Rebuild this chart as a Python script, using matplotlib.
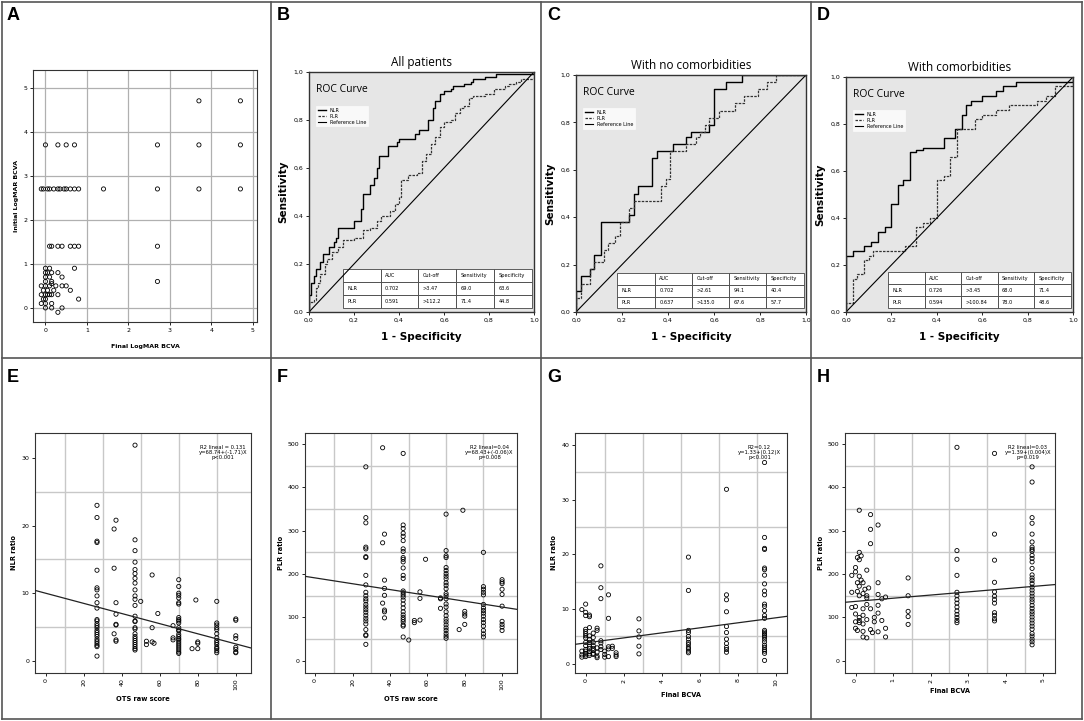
import matplotlib
matplotlib.use('Agg')
import matplotlib.pyplot as plt
from matplotlib.patches import Rectangle
from matplotlib.lines import Line2D
from matplotlib.ticker import FuncFormatter, MultipleLocator, FixedLocator

W, H = 1084, 721

# ---- panel A: initial vs final LogMAR BCVA ----
a_final = [3.7, 4.7,
           0, 0.3, 0.5, 0.7, 2.7, 3.7, 4.7,
           -0.1, -0.05, 0.05, 0.1, 0.2, 0.3, 0.35, 0.45, 0.5, 0.6, 0.7, 0.8, 1.4, 2.7, 3.7, 4.7,
           0.1, 0.15, 0.3, 0.4, 0.6, 0.7, 0.8, 2.7,
           2.7,
           0, 0.1, 0, 0.05, 0.15, 0.3, 0, 0.1, 0.4, 0.7, 0, 0.15, 0.15, -0.1, 0, 0.1, 0.25,
           0.4, 0.5, -0.05, 0.05, 0.2, 0.6, -0.1, 0, 0.05, 0.1, 0.15, 0.3, -0.05, 0, 0,
           -0.1, 0.15, 0.8, 0, 0.15, 0.4, 0.3]
a_initial = [4.7, 4.7,
             3.7, 3.7, 3.7, 3.7, 3.7, 3.7, 3.7,
             2.7, 2.7, 2.7, 2.7, 2.7, 2.7, 2.7, 2.7, 2.7, 2.7, 2.7, 2.7, 2.7, 2.7, 2.7, 2.7,
             1.4, 1.4, 1.4, 1.4, 1.4, 1.4, 1.4, 1.4,
             0.6,
             0.9, 0.9, 0.8, 0.8, 0.8, 0.8, 0.7, 0.7, 0.7, 0.9, 0.6, 0.6, 0.55, 0.5, 0.5, 0.5, 0.5,
             0.5, 0.5, 0.4, 0.4, 0.4, 0.4, 0.3, 0.3, 0.3, 0.3, 0.3, 0.3, 0.2, 0.2, 0.1,
             0.1, 0.1, 0.2, 0.0, 0.0, 0.0, -0.1]

# ---- ROC curves (fpr, tpr) ----
b_nlr_fpr = [0, 0, 0.01, 0.02, 0.03, 0.05, 0.06, 0.09, 0.11, 0.12, 0.13, 0.19, 0.2, 0.22, 0.23, 0.24, 0.26,
             0.27, 0.29, 0.3, 0.31, 0.34, 0.35, 0.38, 0.39, 0.4, 0.46, 0.47, 0.49, 0.52, 0.53, 0.55, 0.56,
             0.58, 0.6, 0.63, 0.64, 0.68, 0.69, 0.72, 0.73, 0.78, 0.83, 1.0]
b_nlr_tpr = [0, 0.07, 0.12, 0.15, 0.18, 0.21, 0.24, 0.27, 0.29, 0.31, 0.35, 0.35, 0.38, 0.38, 0.43, 0.49, 0.49,
             0.53, 0.56, 0.6, 0.65, 0.65, 0.69, 0.69, 0.71, 0.72, 0.72, 0.74, 0.76, 0.76, 0.8, 0.85, 0.88,
             0.91, 0.92, 0.93, 0.94, 0.94, 0.95, 0.96, 0.97, 0.98, 0.99, 1.0]
b_plr_fpr = [0, 0, 0.02, 0.03, 0.04, 0.05, 0.07, 0.08, 0.1, 0.13, 0.15, 0.2, 0.24, 0.27, 0.3, 0.32, 0.36,
             0.38, 0.4, 0.41, 0.44, 0.48, 0.5, 0.52, 0.54, 0.56, 0.58, 0.6, 0.63, 0.65, 0.67, 0.69, 0.71,
             0.73, 0.78, 0.82, 0.87, 0.89, 0.92, 0.94, 1.0]
b_plr_tpr = [0, 0.04, 0.05, 0.1, 0.12, 0.16, 0.2, 0.22, 0.25, 0.27, 0.3, 0.31, 0.34, 0.35, 0.38, 0.4, 0.42,
             0.45, 0.48, 0.55, 0.57, 0.58, 0.63, 0.66, 0.7, 0.73, 0.77, 0.79, 0.8, 0.83, 0.85, 0.86, 0.89,
             0.9, 0.91, 0.93, 0.94, 0.95, 0.96, 0.97, 1.0]

c_nlr_fpr = [0, 0, 0.02, 0.02, 0.06, 0.06, 0.08, 0.08, 0.1, 0.11, 0.23, 0.23, 0.25, 0.25, 0.27, 0.27, 0.33,
             0.33, 0.35, 0.35, 0.42, 0.42, 0.48, 0.48, 0.5, 0.5, 0.58, 0.58, 0.6, 0.6, 0.65, 0.65, 0.7,
             0.72, 1.0]
c_nlr_tpr = [0, 0.09, 0.09, 0.15, 0.15, 0.18, 0.18, 0.24, 0.24, 0.38, 0.38, 0.41, 0.41, 0.5, 0.5, 0.53, 0.53,
             0.65, 0.65, 0.68, 0.68, 0.71, 0.71, 0.74, 0.74, 0.76, 0.76, 0.79, 0.79, 0.94, 0.94, 0.97, 0.97,
             1.0, 1.0]
c_plr_fpr = [0, 0, 0.02, 0.02, 0.06, 0.06, 0.08, 0.08, 0.12, 0.12, 0.14, 0.14, 0.17, 0.17, 0.19, 0.19, 0.23,
             0.23, 0.25, 0.37, 0.37, 0.39, 0.39, 0.4, 0.41, 0.48, 0.48, 0.52, 0.52, 0.54, 0.56, 0.58, 0.58,
             0.62, 0.69, 0.69, 0.73, 0.73, 0.77, 0.79, 0.83, 0.83, 0.87, 0.87, 1.0]
c_plr_tpr = [0, 0.06, 0.06, 0.12, 0.12, 0.18, 0.18, 0.21, 0.21, 0.26, 0.26, 0.29, 0.29, 0.32, 0.32, 0.38, 0.38,
             0.44, 0.47, 0.47, 0.53, 0.53, 0.56, 0.56, 0.68, 0.68, 0.71, 0.71, 0.74, 0.76, 0.79, 0.79, 0.82,
             0.85, 0.85, 0.88, 0.88, 0.91, 0.91, 0.94, 0.94, 0.97, 0.97, 1.0, 1.0]

d_nlr_fpr = [0, 0, 0.03, 0.03, 0.08, 0.08, 0.11, 0.11, 0.14, 0.14, 0.17, 0.17, 0.2, 0.2, 0.23, 0.23, 0.25,
             0.25, 0.28, 0.28, 0.31, 0.31, 0.34, 0.43, 0.43, 0.48, 0.48, 0.51, 0.51, 0.53, 0.53, 0.55, 0.55,
             0.6, 0.6, 0.66, 0.66, 0.69, 0.69, 0.75, 0.75, 1.0, 1.0]
d_nlr_tpr = [0, 0.24, 0.24, 0.26, 0.26, 0.28, 0.28, 0.3, 0.3, 0.34, 0.34, 0.36, 0.36, 0.46, 0.46, 0.54, 0.54,
             0.56, 0.56, 0.68, 0.68, 0.69, 0.7, 0.7, 0.74, 0.74, 0.78, 0.78, 0.84, 0.84, 0.88, 0.88, 0.9,
             0.9, 0.92, 0.92, 0.94, 0.94, 0.96, 0.96, 0.98, 0.98, 1.0]
d_plr_fpr = [0, 0, 0.03, 0.03, 0.05, 0.05, 0.08, 0.08, 0.1, 0.1, 0.12, 0.12, 0.26, 0.26, 0.31, 0.31, 0.34,
             0.34, 0.37, 0.37, 0.4, 0.4, 0.43, 0.43, 0.46, 0.46, 0.49, 0.49, 0.57, 0.57, 0.6, 0.6, 0.66,
             0.66, 0.72, 0.72, 0.84, 0.84, 0.88, 0.88, 0.92, 0.92, 1.0, 1.0]
d_plr_tpr = [0, 0.04, 0.04, 0.14, 0.14, 0.16, 0.16, 0.22, 0.22, 0.24, 0.24, 0.26, 0.26, 0.28, 0.28, 0.36, 0.36,
             0.38, 0.38, 0.4, 0.4, 0.56, 0.56, 0.58, 0.58, 0.66, 0.66, 0.78, 0.78, 0.82, 0.82, 0.84, 0.84,
             0.86, 0.86, 0.88, 0.88, 0.9, 0.9, 0.92, 0.92, 0.96, 0.96, 1.0]

table_header = ['', 'AUC', 'Cut-off', 'Sensitivity', 'Specificity']
b_table = [['NLR', '0.702', '>3.47', '69.0', '63.6'], ['PLR', '0.591', '>112.2', '71.4', '44.8']]
c_table = [['NLR', '0.702', '>2.61', '94.1', '40.4'], ['PLR', '0.637', '>135.0', '67.6', '57.7']]
d_table = [['NLR', '0.726', '>3.45', '68.0', '71.4'], ['PLR', '0.594', '>100.84', '78.0', '48.6']]

# ---- panel E: NLR vs OTS raw score ----
e_ots = [27, 36, 37, 47, 50, 53, 56, 57, 59, 67, 70, 77, 79, 80, 90, 100]
e_nlr = [[23.0, 21.2, 17.7, 17.5, 13.4, 10.8, 10.5, 9.6, 8.6, 7.8, 6.1, 5.9, 5.5, 5.2, 4.9, 4.5, 4.2,
          3.9, 3.6, 3.2, 2.9, 2.6, 2.3, 2.1, 0.7],
         [19.5, 13.7, 4.0],
         [20.8, 8.6, 6.9, 5.4, 5.3, 3.1, 2.9],
         [31.9, 17.9, 16.3, 14.6, 13.5, 12.9, 12.2, 11.5, 10.5, 9.6, 9.1, 8.2, 6.6, 5.9, 5.8, 4.9, 4.7,
          4.0, 3.6, 3.3, 3.0, 2.7, 2.4, 2.1, 1.8, 1.6],
         [8.8], [2.9, 2.4], [12.7, 4.9, 2.8], [2.6], [7.0], [5.2, 3.4, 3.1],
         [12.0, 11.0, 10.0, 9.7, 9.3, 8.6, 8.4, 6.4, 6.1, 5.9, 5.6, 4.9, 4.6, 4.4, 3.9, 3.6, 3.3, 3.1,
          2.8, 2.5, 2.2, 1.9, 1.6, 1.3, 1.1],
         [1.8], [9.0], [2.8, 2.6, 1.8],
         [8.8, 5.6, 5.3, 4.9, 4.6, 4.0, 3.4, 3.0, 2.7, 2.4, 2.0, 1.8, 1.5, 1.2],
         [6.2, 6.0, 3.7, 3.3, 2.0, 1.7, 1.3, 1.2]]
e_fit = (10.0, -0.075)

# ---- panel F: PLR vs OTS raw score ----
f_ots = [27, 36, 37, 47, 50, 53, 56, 59, 67, 70, 77, 79, 80, 90, 100]
f_plr = [[447, 330, 318, 262, 258, 240, 238, 197, 175, 158, 150, 143, 138, 130, 124, 118, 112, 105, 98,
          92, 85, 72, 60, 58, 38],
         [491, 272, 133],
         [292, 186, 167, 151, 117, 113, 99],
         [478, 313, 305, 294, 287, 277, 258, 252, 238, 234, 228, 214, 197, 190, 161, 157, 152, 147, 140,
          131, 122, 113, 106, 100, 95, 90, 83, 80, 55],
         [48], [93, 88], [159, 144, 94], [234], [145, 143, 121],
         [338, 254, 242, 238, 215, 208, 201, 195, 189, 180, 174, 166, 155, 150, 143, 131, 124, 113, 104,
          96, 90, 83, 76, 70, 63, 57, 52],
         [72], [347], [114, 108, 103, 84],
         [250, 171, 165, 158, 152, 130, 122, 116, 110, 103, 95, 88, 80, 70, 62, 55],
         [187, 182, 178, 165, 153, 126, 91, 84, 78, 70]]
f_fit = (191, -0.67)

# ---- panel G: NLR vs final BCVA ----
g_bcva = [-0.2, 0, 0.2, 0.4, 0.6, 0.8, 1.0, 1.2, 1.4, 1.6, 2.8, 5.4, 7.4, 9.4]
g_nlr = [[9.9, 2.3, 1.6, 1.2],
         [10.9, 9.4, 8.8, 6.3, 5.9, 5.5, 5.1, 4.7, 3.9, 3.3, 2.6, 2.3, 1.9, 1.6, 1.3],
         [8.9, 8.6, 6.6, 5.1, 4.4, 3.9, 3.2, 2.8, 2.2, 1.8, 1.5],
         [5.6, 4.8, 3.9, 3.3, 2.8, 2.4, 1.9, 1.7],
         [6.5, 6.1, 2.9, 2.1, 1.4, 1.1],
         [17.9, 13.9, 11.9, 4.2, 3.8, 3.1, 2.6],
         [2.3, 1.7, 1.2],
         [12.6, 8.3, 3.1, 2.7, 1.3],
         [3.2, 2.8],
         [2.0, 1.6, 1.3],
         [8.2, 6.0, 4.9, 3.2, 1.8],
         [19.5, 13.4, 6.1, 5.7, 5.0, 4.5, 3.9, 3.5, 3.0, 2.7, 2.3, 2.0],
         [31.9, 12.6, 11.7, 9.5, 6.8, 5.7, 4.5, 3.7, 3.0, 2.6, 2.1],
         [36.8, 23.1, 21.1, 20.9, 17.5, 17.2, 16.2, 14.6, 13.3, 12.6, 10.9, 10.5, 9.7, 8.8, 8.3, 6.1,
          5.8, 5.5, 5.2, 4.9, 4.5, 4.0, 3.4, 3.0, 2.6, 2.3, 1.9, 0.6]]
g_fit = (3.8, 0.46)

# ---- panel H: PLR vs final BCVA ----
h_left_bcva = [0.1, 0.4, 0.4, 0.6, 0.4, 0.1, 0.15, 0.05, 0.1, 0, 0.3, 0, -0.1, 0.1, 0.15, 0.05, 0.2,
               0.1, 0.35, 0.25, 0.6, 0.6, -0.1, 0.05, 0.2, 0.3, 0.1, 0.3, 0.7, 0.8, -0.1, 0, 0.2, 0.4,
               0.3, 0.6, 0.5, 0.6, 0, 0.1, 0.2, 0.3, 0, 0.1, 0.2, 0, 0.05, 0.2, 0.4, 0.45, 0.6, 0.7,
               0.8, 0.8, 0.2, 0.3, 0.1, 0.5]
h_left_plr = [347, 337, 303, 313, 270, 250, 242, 238, 233, 215, 209, 205, 197, 195, 186, 180, 180,
              172, 168, 165, 180, 153, 158, 160, 155, 150, 150, 145, 143, 147, 123, 125, 120, 120,
              130, 128, 100, 110, 108, 100, 105, 95, 90, 88, 85, 75, 70, 68, 72, 65, 67, 93,
              75, 55, 55, 53, 93, 90]
h_bcva = [1.4, 2.7, 3.7, 4.7]
h_plr = [[191, 150, 114, 102, 84],
         [492, 254, 234, 197, 158, 150, 141, 133, 124, 115, 107, 100, 93, 88],
         [478, 292, 232, 181, 159, 149, 141, 133, 111, 105, 97, 92],
         [447, 412, 330, 317, 292, 274, 262, 257, 253, 243, 236, 228, 213, 198, 191, 185, 178, 170,
          163, 156, 149, 142, 136, 128, 121, 114, 108, 101, 94, 87, 80, 73, 63, 57, 50, 44, 37]]
h_fit = (137, 7.3)


def px_axes(x0, y0, x1, y1):
    return fig.add_axes([x0 / W, 1 - y1 / H, (x1 - x0) / W, (y1 - y0) / H])


def flatten(xs, groups):
    fx, fy = [], []
    for x, ys in zip(xs, groups):
        for y in ys:
            fx.append(x)
            fy.append(y)
    return fx, fy


def style_box(ax, lw=0.8):
    for s in ax.spines.values():
        s.set_linewidth(lw)
        s.set_color('#333333')
    ax.tick_params(direction='out', length=2.5, width=0.6, labelsize=4.5, pad=1.5)


def scatter_open(ax, x, y):
    ax.scatter(x, y, s=9, facecolors='none', edgecolors='black', linewidths=0.6, zorder=3)


comma = FuncFormatter(lambda v, p: f"{v:.1f}".replace('.', ','))

fig = plt.figure(figsize=(W / 100, H / 100), dpi=100)
fig.patch.set_facecolor('white')

# panel frames
for x in [2, 271, 541, 811, 1082]:
    fig.add_artist(Line2D([x / W, x / W], [1 - 2 / H, 1 - 719 / H], color='#555555', lw=1.2,
                          transform=fig.transFigure))
for y in [2, 358, 719]:
    fig.add_artist(Line2D([2 / W, 1082 / W], [1 - y / H, 1 - y / H], color='#555555', lw=1.2,
                          transform=fig.transFigure))

letters = [('A', 7, 20), ('B', 277, 20), ('C', 547, 20), ('D', 817, 20),
           ('E', 7, 382), ('F', 277, 382), ('G', 547, 382), ('H', 817, 382)]
for lab, x, y in letters:
    fig.text(x / W, 1 - y / H, lab, fontsize=13, fontweight='bold', family='Liberation Sans')

# ---- A ----
ax = px_axes(33, 70, 257, 322)
style_box(ax)
ax.set_xlim(-0.3, 5.1)
ax.set_ylim(-0.32, 5.4)
ax.set_xticks(range(6))
ax.set_yticks(range(6))
ax.grid(True, color='#b0b0b0', lw=0.9)
ax.set_axisbelow(True)
scatter_open(ax, a_final, a_initial)
ax.set_xlabel('Final LogMAR BCVA', fontsize=4.5, fontweight='bold', labelpad=8)
ax.set_ylabel('Initial LogMAR BCVA', fontsize=4.5, fontweight='bold', labelpad=3)

# ---- ROC panels ----
roc_specs = [
    ((309, 72, 534, 312), 'All patients', b_nlr_fpr, b_nlr_tpr, b_plr_fpr, b_plr_tpr, b_table, 0.15, 0.18),
    ((576, 75, 806, 312), 'With no comorbidities', c_nlr_fpr, c_nlr_tpr, c_plr_fpr, c_plr_tpr, c_table, 0.18, 0.165),
    ((846, 77, 1073, 312), 'With comorbidities', d_nlr_fpr, d_nlr_tpr, d_plr_fpr, d_plr_tpr, d_table, 0.185, 0.17),
]
for rect, title, nx, ny, px_, py, tab, tx0, ttop in roc_specs:
    ax = px_axes(*rect)
    style_box(ax, lw=1.0)
    ax.set_facecolor('#e6e6e6')
    ax.set_xlim(0, 1)
    ax.set_ylim(0, 1)
    ax.set_xticks([0, 0.2, 0.4, 0.6, 0.8, 1.0])
    ax.set_yticks([0, 0.2, 0.4, 0.6, 0.8, 1.0])
    ax.xaxis.set_major_formatter(comma)
    ax.yaxis.set_major_formatter(comma)
    ax.plot(nx, ny, color='black', lw=1.0, drawstyle='steps-post', label='NLR')
    ax.plot(px_, py, color='#333333', lw=0.9, linestyle=(0, (2, 1)), drawstyle='steps-post', label='PLR')
    ax.plot([0, 1], [0, 1], color='black', lw=0.8, label='Reference Line')
    ax.text(0.03, 0.95, 'ROC Curve', transform=ax.transAxes, fontsize=7.5, va='top', family='Open Sans')
    leg = ax.legend(loc='upper left', bbox_to_anchor=(0.02, 0.87), fontsize=3.5, frameon=True,
                    handlelength=1.6, borderpad=0.4, labelspacing=0.2, fancybox=False)
    leg.get_frame().set_edgecolor('white')
    leg.get_frame().set_linewidth(0.5)
    t = ax.table(cellText=[table_header] + tab, bbox=[tx0, 0.015, 1 - tx0 - 0.01, ttop - 0.015],
                 cellLoc='left')
    t.auto_set_font_size(False)
    t.set_fontsize(3.6)
    for cell in t.get_celld().values():
        cell.set_facecolor('white')
        cell.set_edgecolor('#444444')
        cell.set_linewidth(0.6)
        cell.PAD = 0.12
    ax.set_title(title, fontsize=8.5, pad=4, family='Open Sans')
    ax.set_xlabel('1 - Specificity', fontsize=7.5, fontweight='bold', labelpad=7)
    ax.set_ylabel('Sensitivity', fontsize=7.5, fontweight='bold', labelpad=4)

# ---- bottom scatter panels ----
scatter_specs = [
    ((35, 433, 251, 673), flatten(e_ots, e_nlr), e_fit, (-5.6, 108), (-1.8, 33.7),
     range(0, 101, 20), [0, 10, 20, 30], [10, 30, 50, 70, 90], [5, 15, 25],
     'OTS raw score', 'NLR ratio', 'R2 lineal = 0.131\ny=68.74+(-1.71)X\np<0.001'),
    ((305, 433, 517, 673), flatten(f_ots, f_plr), f_fit, (-5.6, 108), (-28, 525),
     range(0, 101, 20), range(0, 501, 100), [10, 30, 50, 70, 90], [50, 150, 250, 350, 450],
     'OTS raw score', 'PLR ratio', 'R2 lineal=0.04\ny=68.43+(-0.06)X\np=0.008'),
    ((575, 433, 787, 673), flatten(g_bcva, g_nlr), g_fit, (-0.56, 10.58), (-1.7, 42.2),
     range(0, 11, 2), [0, 10, 20, 30, 40], [1, 3, 5, 7, 9], [5, 15, 25, 35],
     'Final BCVA', 'NLR ratio', 'R2=0.12\ny=1.33+(0.12)X\np<0.001'),
    ((845, 433, 1055, 673), None, h_fit, (-0.28, 5.31), (-28, 525),
     range(0, 6), range(0, 501, 100), [0.5, 1.5, 2.5, 3.5, 4.5], [50, 150, 250, 350, 450],
     'Final BCVA', 'PLR ratio', 'R2 lineal=0.03\ny=1.39+(0.004)X\np=0.019'),
]
for rect, pts, fit, xl, yl, xt, yt, xg, yg, xlab, ylab, note in scatter_specs:
    ax = px_axes(*rect)
    style_box(ax)
    ax.set_xlim(*xl)
    ax.set_ylim(*yl)
    ax.set_xticks(list(xt))
    ax.set_yticks(list(yt))
    ax.xaxis.set_minor_locator(FixedLocator(xg))
    ax.yaxis.set_minor_locator(FixedLocator(yg))
    ax.tick_params(which='minor', length=0)
    ax.grid(True, which='minor', color='#c8c8c8', lw=1.0)
    ax.set_axisbelow(True)
    for lbl in ax.get_xticklabels():
        lbl.set_rotation(90)
    if pts is None:
        hx, hy = flatten(h_bcva, h_plr)
        scatter_open(ax, h_left_bcva + hx, h_left_plr + hy)
    else:
        scatter_open(ax, pts[0], pts[1])
    ax.axline((0, fit[0]), slope=fit[1], color='#222222', lw=0.9, zorder=4)
    ax.text(0.87, 0.95, note, transform=ax.transAxes, fontsize=3.8, ha='center', va='top',
            linespacing=1.0)
    ax.set_xlabel(xlab, fontsize=4.8, fontweight='bold', labelpad=4)
    ax.set_ylabel(ylab, fontsize=4.8, fontweight='bold', labelpad=3)

fig.savefig('out.png', dpi=100, facecolor='white')
